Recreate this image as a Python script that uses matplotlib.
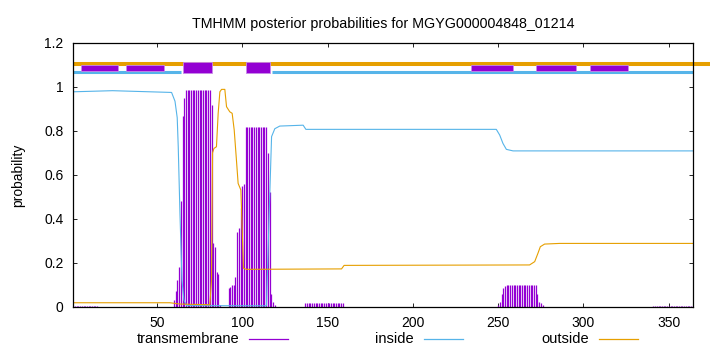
import numpy as np
import matplotlib
matplotlib.use("Agg")
import matplotlib.pyplot as plt
from matplotlib.lines import Line2D
from matplotlib.patches import Rectangle

plt.rcParams['font.family'] = ['Liberation Sans', 'DejaVu Sans']
plt.rcParams['font.size'] = 10

TM_COLOR = '#9400d3'
IN_COLOR = '#56b4e9'
OUT_COLOR = '#e69f00'

seq_len = 364
residues = np.arange(1, seq_len + 1)

# transmembrane posterior, one value per residue (runs are plateaus)
tm_prob = ([0.003] * 15 + [0.0] * 44
           + [0.03, 0.07, 0.12, 0.18, 0.48, 0.87, 0.95]
           + [0.985] * 15
           + [0.92, 0.29, 0.27, 0.16, 0.15, 0.01]
           + [0.0] * 4
           + [0.085, 0.09, 0.1, 0.1, 0.135, 0.34, 0.36, 0.45, 0.55, 0.56]
           + [0.82] * 13
           + [0.70, 0.52, 0.06, 0.02, 0.01]
           + [0.0] * 17
           + [0.016] * 23
           + [0.0] * 90
           + [0.01, 0.02, 0.06, 0.085, 0.095]
           + [0.1] * 18
           + [0.06, 0.02, 0.015, 0.01]
           + [0.0] * 64
           + [0.002] * 24)

inside_pos = [1, 24, 58.6, 60.6, 61.9, 62.5, 63.5, 64.7, 65.8, 67.4, 114.2, 115.8,
              117.2, 119.1, 122, 135.7, 137.3, 248.9, 250.9, 252.8, 254.8, 258.7, 364]
inside_val = [0.978, 0.983, 0.975, 0.935, 0.86, 0.728, 0.425, 0.12, 0.03, 0.005, 0.004, 0.425,
              0.774, 0.81, 0.822, 0.826, 0.807, 0.807, 0.781, 0.743, 0.716, 0.709, 0.709]

outside_pos = [1, 57.6, 63.5, 81.0, 82.0, 82.6, 83.4, 84.9, 85.9, 86.9, 87.9, 89.8, 90.8,
               92.7, 94.1, 95.3, 96.6, 97.6, 99.2, 100, 100.7, 102.5, 158.2, 159.7,
               268.4, 271.4, 273.3, 274.7, 277.2, 286, 364]
outside_val = [0.018, 0.018, 0.012, 0.009, 0.12, 0.70, 0.72, 0.728, 0.88, 0.978, 0.989, 0.989, 0.91,
               0.887, 0.88, 0.804, 0.668, 0.561, 0.531, 0.349, 0.175, 0.17, 0.172, 0.188,
               0.19, 0.205, 0.243, 0.273, 0.285, 0.288, 0.288]

# topology bar on top
tm_helices = [(65.1, 82.0), (102.0, 116.2)]
thin_boxes = [(5.3, 27.0), (32.0, 54.1), (233.9, 258.9), (271.9, 295.8), (304.0, 325.8)]
inside_segments = [(1, 63.9), (117.2, 364)]

fig = plt.figure(figsize=(7.2, 3.52), dpi=100)
ax = fig.add_axes([73.3 / 720, 1 - 306.7 / 352, (692.7 - 73.3) / 720, (306.7 - 43) / 352])

ax.vlines(residues, 0, tm_prob, color=TM_COLOR, lw=0.9)
ax.plot(inside_pos, inside_val, color=IN_COLOR, lw=0.8)
ax.plot(outside_pos, outside_val, color=OUT_COLOR, lw=0.8)

# outside line runs off the right edge of the plot, like gnuplot
ax.plot([1, seq_len + 10], [1.106, 1.106], color=OUT_COLOR, lw=2.9,
        solid_capstyle='butt', clip_on=False)
for a, b in inside_segments:
    ax.plot([a, b], [1.066, 1.066], color=IN_COLOR, lw=2.2, solid_capstyle='butt')
for a, b in thin_boxes:
    ax.add_patch(Rectangle((a, 1.0726), b - a, 0.0273, facecolor=TM_COLOR,
                           edgecolor='#c78be8', lw=0.6, zorder=3))
for a, b in tm_helices:
    ax.add_patch(Rectangle((a, 1.0621), b - a, 0.0501, facecolor=TM_COLOR,
                           edgecolor='#c78be8', lw=0.6, zorder=3))

ax.set_xlim(1, seq_len)
ax.set_ylim(0, 1.2)
ax.set_xticks([50, 100, 150, 200, 250, 300, 350])
ax.set_yticks([0, 0.2, 0.4, 0.6, 0.8, 1.0, 1.2])
ax.set_yticklabels(['0', '0.2', '0.4', '0.6', '0.8', '1', '1.2'])
ax.tick_params(direction='in', length=3, width=0.6, top=True, right=True, pad=7)
for s in ax.spines.values():
    s.set_linewidth(0.9)
ax.set_ylabel('probability', labelpad=14)
ax.set_title('TMHMM posterior probabilities for MGYG000004848_01214', fontsize=10.3, pad=11)

# legend along the bottom
legend_items = [('transmembrane', TM_COLOR, 248.7), ('inside', IN_COLOR, 423.5), ('outside', OUT_COLOR, 598.6)]
ly = 1 - 339 / 352
for label, col, x0 in legend_items:
    fig.text((x0 - 9.5) / 720, ly, label, ha='right', va='center', fontsize=10.5)
    fig.add_artist(Line2D([x0 / 720, (x0 + 39.5) / 720], [ly, ly], color=col, lw=0.9))

fig.savefig('out.png', dpi=100)
